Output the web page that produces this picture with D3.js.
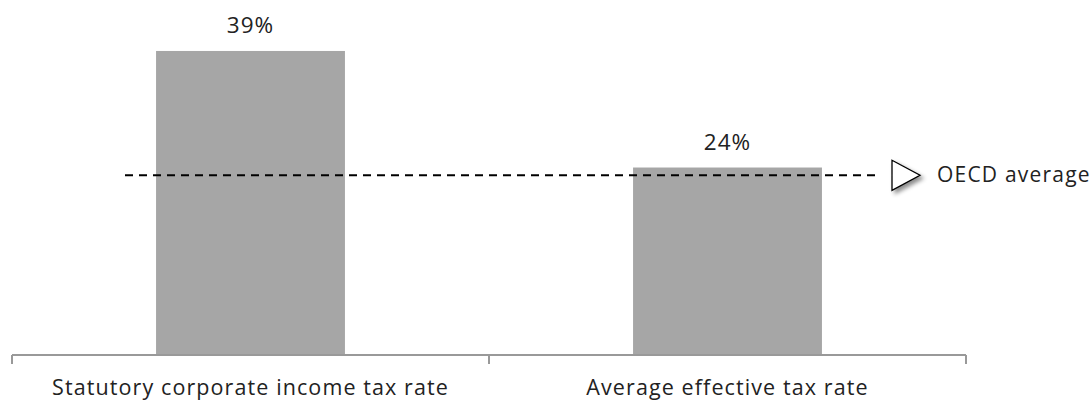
<!DOCTYPE html>
<html>
<head>
<meta charset="utf-8">
<script src="https://cdn.jsdelivr.net/npm/d3@7"></script>
<style>
  html, body { margin: 0; padding: 0; background: #fff; }
  svg { display: block; }
  text { font-family: "Open Sans", sans-serif; fill: #222; }
</style>
</head>
<body>
<svg id="chart" width="1092" height="401"></svg>
<script>
// Tax rates compared with the OECD average
const categories = ["Statutory corporate income tax rate", "Average effective tax rate"];
const values = [39, 24];
const valueLabels = ["39%", "24%"];
const oecdAverage = 23;
const oecdLabel = "OECD average";

const svg = d3.select("#chart");

const x = d3.scaleBand()
  .domain(categories)
  .range([12, 966])
  .paddingInner(0)
  .paddingOuter(0);

const y = d3.scaleLinear()
  .domain([0, 40])
  .range([354, 43.2]);

const barFrac = 0.396;
const barW = x.bandwidth() * barFrac;
const cx = d => x(d) + x.bandwidth() / 2;

// drop shadow for the marker
const defs = svg.append("defs");
const f = defs.append("filter").attr("id", "shadow")
  .attr("x", "-50%").attr("y", "-50%").attr("width", "200%").attr("height", "200%");
f.append("feDropShadow")
  .attr("dx", 3).attr("dy", 3).attr("stdDeviation", 2)
  .attr("flood-color", "#000").attr("flood-opacity", 0.45);

// bars
svg.append("g").selectAll("rect")
  .data(categories)
  .join("rect")
  .attr("x", d => cx(d) - barW / 2)
  .attr("width", barW)
  .attr("y", (d, i) => y(values[i]))
  .attr("height", (d, i) => y(0) - y(values[i]))
  .attr("fill", "#a6a6a6");

// value labels
svg.append("g").selectAll("text")
  .data(categories)
  .join("text")
  .attr("x", d => cx(d))
  .attr("y", (d, i) => y(values[i]) - 18)
  .attr("text-anchor", "middle")
  .attr("font-size", 22.5)
  .attr("letter-spacing", 1)
  .text((d, i) => valueLabels[i]);

// OECD average reference line
const yAvg = y(oecdAverage);
svg.append("line")
  .attr("x1", 125).attr("x2", 876)
  .attr("y1", yAvg).attr("y2", yAvg)
  .attr("stroke", "#000")
  .attr("stroke-width", 2)
  .attr("stroke-dasharray", "8,6");

// marker and label
svg.append("path")
  .attr("d", `M892,${yAvg - 15} L920,${yAvg} L892,${yAvg + 15} Z`)
  .attr("fill", "#fff")
  .attr("stroke", "#000")
  .attr("stroke-width", 1.3)
  .attr("filter", "url(#shadow)");

svg.append("text")
  .attr("x", 937)
  .attr("y", yAvg + 7)
  .attr("font-size", 21)
  .attr("letter-spacing", 1.2)
  .text(oecdLabel);

// category axis with ticks at band edges
const axisY = 355;
const axis = svg.append("g").attr("stroke", "#999").attr("stroke-width", 2).attr("fill", "none");
axis.append("line")
  .attr("x1", x.range()[0]).attr("x2", x.range()[1])
  .attr("y1", axisY).attr("y2", axisY);
const edges = categories.map(d => x(d)).concat([x.range()[1]]);
axis.selectAll("line.tick")
  .data(edges)
  .join("line")
  .attr("class", "tick")
  .attr("x1", d => d).attr("x2", d => d)
  .attr("y1", axisY).attr("y2", 364);

svg.append("g").selectAll("text")
  .data(categories)
  .join("text")
  .attr("x", d => cx(d))
  .attr("y", 395)
  .attr("text-anchor", "middle")
  .attr("font-size", 21.5)
  .attr("letter-spacing", 1.1)
  .text(d => d);
</script>
</body>
</html>
